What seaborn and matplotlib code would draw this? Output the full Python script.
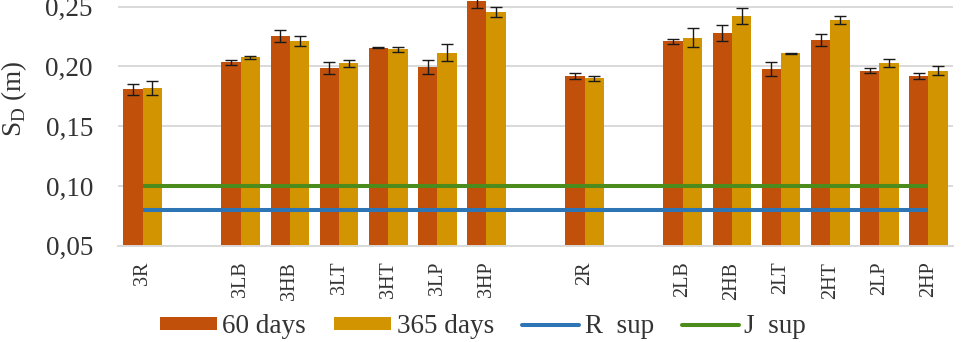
import matplotlib
matplotlib.use("Agg")
import matplotlib.pyplot as plt
import seaborn as sns
import pandas as pd
from matplotlib.patches import Patch
from matplotlib.lines import Line2D

# ---- data ----
categories = ["3R", "3LB", "3HB", "3LT", "3HT", "3LP", "3HP",
              "2R", "2LB", "2HB", "2LT", "2HT", "2LP", "2HP"]
days_60 = [0.1810, 0.2035, 0.2258, 0.1985, 0.2157, 0.1993, 0.2545,
           0.1920, 0.2210, 0.2278, 0.1978, 0.2222, 0.1965, 0.1920]
days_365 = [0.1820, 0.2078, 0.2213, 0.2026, 0.2143, 0.2115, 0.2453,
            0.1900, 0.2240, 0.2422, 0.2110, 0.2389, 0.2026, 0.1965]
err_60 = [0.0045, 0.0022, 0.0050, 0.0052, 0.0005, 0.0057, 0.0060,
          0.0024, 0.0021, 0.0068, 0.0057, 0.0053, 0.0022, 0.0021]
err_365 = [0.0055, 0.0013, 0.0045, 0.0027, 0.0020, 0.0070, 0.0043,
           0.0020, 0.0078, 0.0064, 0.0005, 0.0032, 0.0034, 0.0035]
r_sup = 0.08
j_sup = 0.10
series_names = ["60 days", "365 days"]
# category axis with empty slots, as in the original
order = ["3R", " ", "3LB", "3HB", "3LT", "3HT", "3LP", "3HP", "  ",
         "2R", "   ", "2LB", "2HB", "2LT", "2HT", "2LP", "2HP"]
yticks = [0.05, 0.10, 0.15, 0.20, 0.25]

c60 = "#C0500A"
c365 = "#D29400"
c_r = "#2E75B6"
c_j = "#4C8C1C"
grid_c = "#D9D9D9"
text_c = "#333333"

df = pd.DataFrame({
    "cat": categories * 2,
    "period": [series_names[0]] * len(categories) + [series_names[1]] * len(categories),
    "val": days_60 + days_365,
})
errs = {series_names[0]: dict(zip(categories, err_60)),
        series_names[1]: dict(zip(categories, err_365))}

sns.set_style("white")
plt.rcParams["font.family"] = ["Liberation Serif", "DejaVu Serif"]
plt.rcParams["mathtext.fontset"] = "custom"
plt.rcParams["mathtext.rm"] = "Liberation Serif"

fig = plt.figure(figsize=(9.7, 3.42), dpi=100)
ax = fig.add_axes([118 / 970, 1 - 245.7 / 342, (953 - 118) / 970, 245.7 / 342])

sns.barplot(data=df, x="cat", y="val", hue="period", order=order,
            hue_order=series_names, palette=[c60, c365], width=0.79,
            errorbar=None, saturation=1, linewidth=0, legend=False, ax=ax,
            zorder=2)

# error bars at bar centres
for cont, name in zip(ax.containers, series_names):
    for bar in cont:
        cx = bar.get_x() + bar.get_width() / 2
        h = bar.get_height()
        cat = order[int(round(cx))]
        if cat in errs[name]:
            ax.errorbar(cx, h, yerr=errs[name][cat], fmt="none", ecolor="#1a1a1a",
                        elinewidth=1.0, capsize=4.0, capthick=1.0, zorder=4)

ax.hlines(r_sup, 0, len(order) - 1, color=c_r, lw=2.9, zorder=5)
ax.hlines(j_sup, 0, len(order) - 1, color=c_j, lw=2.9, zorder=5)

ax.set_xlim(-0.5, len(order) - 0.5)
ax.set_ylim(0.05, 0.2556)
ax.set_yticks(yticks)
ax.set_yticklabels([f"{v:.2f}".replace(".", ",") for v in yticks], fontsize=19.5)
ax.yaxis.grid(True, color=grid_c, lw=1.4, zorder=0)
ax.set_axisbelow(True)
for s in ["top", "right", "left"]:
    ax.spines[s].set_visible(False)
ax.spines["bottom"].set_color(grid_c)
ax.spines["bottom"].set_linewidth(1.4)
ax.tick_params(axis="y", length=0, pad=18, colors=text_c)
ax.tick_params(axis="x", length=0, pad=11.5, colors=text_c)
for lab in ax.get_xticklabels():
    lab.set_rotation(90)
    lab.set_fontsize(14.5)
    lab.set_va("top")
ax.set_xlabel("")
ax.set_ylabel(r"S$_\mathregular{D}$ (m)", fontsize=19.5, color=text_c)
ax.yaxis.set_label_coords((29 - 118) / 835, 0.6)

handles = [Patch(facecolor=c60, edgecolor="none"),
           Patch(facecolor=c365, edgecolor="none"),
           Line2D([], [], color=c_r, lw=2.9),
           Line2D([], [], color=c_j, lw=2.9)]
labels = series_names + ["R  sup", "J  sup"]
fig.legend(handles, labels, loc="center", bbox_to_anchor=(0.498, 0.045), ncol=4,
           frameon=False, fontsize=19.5, handlelength=2.1, handleheight=0.35,
           handletextpad=0.2, columnspacing=1.05, labelcolor=text_c,
           borderaxespad=0, borderpad=0)

fig.savefig("out.png", dpi=100)
